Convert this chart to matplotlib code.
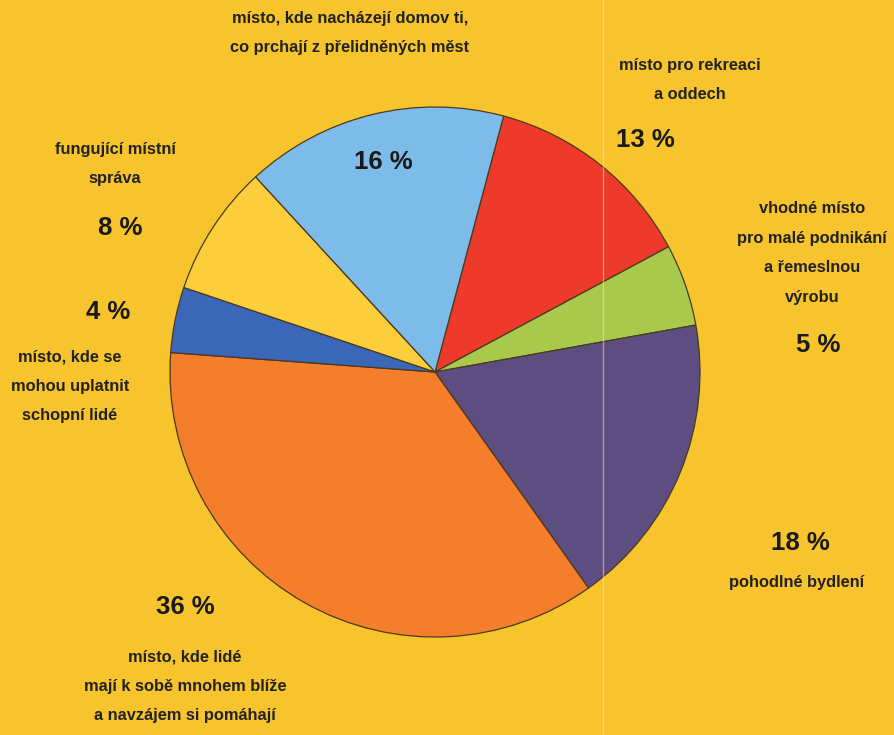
import matplotlib
matplotlib.use("Agg")
import matplotlib.pyplot as plt

# slice data, clockwise starting from the red slice
values = [13, 5, 18, 36, 4, 8, 16]
colors = ["#ee3a2a", "#a9c94c", "#5d4d80", "#f47e2c", "#3b67b8", "#fcce3c", "#7dbbe8"]
percent_labels = ["13 %", "5 %", "18 %", "36 %", "4 %", "8 %", "16 %"]
descriptions = [
    "místo pro rekreaci\na oddech",
    "vhodné místo\npro malé podnikání\na řemeslnou\nvýrobu",
    "pohodlné bydlení",
    "místo, kde lidé\nmají k sobě mnohem blíže\na navzájem si pomáhají",
    "místo, kde se\nmohou uplatnit\nschopní lidé",
    "fungující místní\nspráva",
    "místo, kde nacházejí domov ti,\nco prchají z přelidněných měst",
]

fam = ["Liberation Sans", "DejaVu Sans"]

bg = "#f7c42e"
W, H = 894, 735

fig = plt.figure(figsize=(8.94, 7.35), dpi=100, facecolor=bg)
ax = fig.add_axes([0, 0, 1, 1])
ax.set_facecolor(bg)

ax.pie(values, colors=colors, startangle=75, counterclock=False,
       center=(435, H - 372), radius=265, frame=True,
       wedgeprops=dict(edgecolor="#4a3a20", linewidth=0.9))
ax.set_xlim(0, W)
ax.set_ylim(0, H)
ax.set_aspect("equal")
ax.axis("off")

# faint page fold
ax.plot([603, 603], [0, H], color="#fbe7a6", lw=1.0, alpha=0.5, zorder=5)

# label positions (pixel coords, y measured from top)
pct_pos = [(645, 140), (818, 345), (800, 543), (185, 607), (108, 312), (120, 228), (383, 162)]
desc_pos = [(690, 80), (812, 253), (797, 582), (185, 686), (70, 386), (115, 164), (350, 33)]

for txt, (x, y) in zip(percent_labels, pct_pos):
    ax.text(x, H - y, txt, ha="center", va="center", fontsize=18.5, fontweight="bold",
            family=fam, color="#1a1a1a", zorder=6)

for txt, (x, y) in zip(descriptions, desc_pos):
    ax.text(x, H - y, txt, ha="center", va="center", fontsize=11.8, fontweight="bold",
            family=fam, color="#222222", linespacing=2.2, zorder=6)

fig.savefig("out.png", dpi=100, facecolor=bg)
